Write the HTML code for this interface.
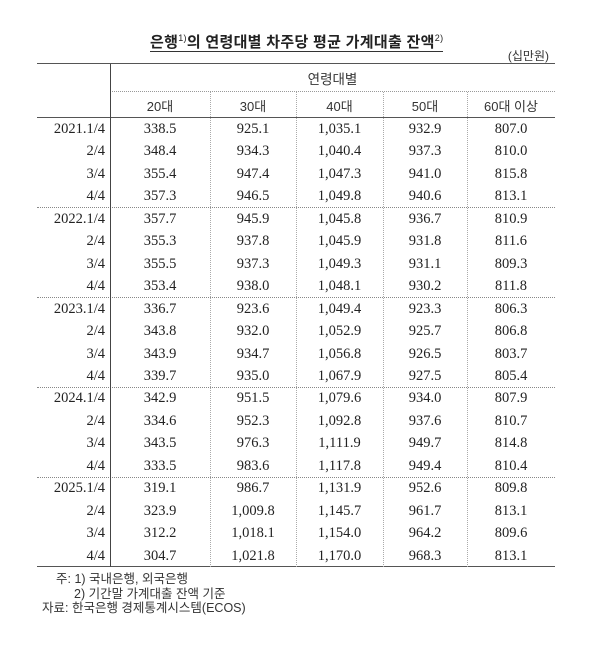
<!DOCTYPE html>
<html><head><meta charset="utf-8"><style>
body{margin:0;width:600px;height:646px;background:#fff;position:relative;overflow:hidden;font-family:"Liberation Serif","Noto Serif CJK KR",serif;color:#222}
.a{position:absolute;white-space:nowrap}
.t{font-family:"Liberation Sans","Noto Sans CJK KR",sans-serif;font-weight:bold;font-size:15px;left:150px;top:34px;border-bottom:1.5px solid #333;line-height:17px;letter-spacing:0.3px}
.t sup{font-size:9px;font-weight:normal;vertical-align:6px;line-height:0}
.k{font-family:"Liberation Sans","Noto Sans CJK KR",sans-serif;font-size:13px;color:#333}
.h{position:absolute;left:37px;width:518px}
.v{position:absolute;width:0}
.c{position:absolute;font-size:14.5px;text-align:center;line-height:22.5px}
</style></head><body>
<div class="a t">은행<sup>1)</sup>의 연령대별 차주당 평균 가계대출 잔액<sup>2)</sup></div>
<div class="a k" style="right:51px;top:47px;font-size:12px">(십만원)</div>
<div class="h" style="top:63px;border-top:1.5px solid #555"></div>
<div class="h" style="top:91px;left:110px;width:445px;border-top:1px dotted #999"></div>
<div class="h" style="top:117px;border-top:1.5px solid #555"></div>
<div class="h" style="top:207px;border-top:1px dotted #888"></div>
<div class="h" style="top:297px;border-top:1px dotted #888"></div>
<div class="h" style="top:387px;border-top:1px dotted #888"></div>
<div class="h" style="top:477px;border-top:1px dotted #888"></div>
<div class="h" style="top:566px;border-top:1.5px solid #555"></div>
<div class="v" style="left:110px;top:64px;height:503px;border-left:1.5px solid #444"></div>
<div class="v" style="left:210px;top:92px;height:475px;border-left:1px dotted #aaa"></div>
<div class="v" style="left:296px;top:92px;height:475px;border-left:1px dotted #aaa"></div>
<div class="v" style="left:383px;top:92px;height:475px;border-left:1px dotted #aaa"></div>
<div class="v" style="left:467px;top:92px;height:475px;border-left:1px dotted #aaa"></div>
<div class="a k" style="left:110px;width:445px;text-align:center;top:68px;font-size:13.5px">연령대별</div>
<div class="a k" style="left:110px;width:100px;text-align:center;top:96px">20대</div>
<div class="a k" style="left:210px;width:86px;text-align:center;top:96px">30대</div>
<div class="a k" style="left:296px;width:87px;text-align:center;top:96px">40대</div>
<div class="a k" style="left:383px;width:84px;text-align:center;top:96px">50대</div>
<div class="a k" style="left:467px;width:88px;text-align:center;top:96px">60대 이상</div>
<div id="rows"></div>
<div class="a k" style="left:56px;top:568px;font-size:12.5px">주: 1) 국내은행, 외국은행</div>
<div class="a k" style="left:74px;top:583px;font-size:12.5px">2) 기간말 가계대출 잔액 기준</div>
<div class="a k" style="left:42px;top:597px;font-size:12.5px">자료: 한국은행 경제통계시스템(ECOS)</div>
<script>
var d=[["2021.1/4","338.5","925.1","1,035.1","932.9","807.0"],["2/4","348.4","934.3","1,040.4","937.3","810.0"],["3/4","355.4","947.4","1,047.3","941.0","815.8"],["4/4","357.3","946.5","1,049.8","940.6","813.1"],
["2022.1/4","357.7","945.9","1,045.8","936.7","810.9"],["2/4","355.3","937.8","1,045.9","931.8","811.6"],["3/4","355.5","937.3","1,049.3","931.1","809.3"],["4/4","353.4","938.0","1,048.1","930.2","811.8"],
["2023.1/4","336.7","923.6","1,049.4","923.3","806.3"],["2/4","343.8","932.0","1,052.9","925.7","806.8"],["3/4","343.9","934.7","1,056.8","926.5","803.7"],["4/4","339.7","935.0","1,067.9","927.5","805.4"],
["2024.1/4","342.9","951.5","1,079.6","934.0","807.9"],["2/4","334.6","952.3","1,092.8","937.6","810.7"],["3/4","343.5","976.3","1,111.9","949.7","814.8"],["4/4","333.5","983.6","1,117.8","949.4","810.4"],
["2025.1/4","319.1","986.7","1,131.9","952.6","809.8"],["2/4","323.9","1,009.8","1,145.7","961.7","813.1"],["3/4","312.2","1,018.1","1,154.0","964.2","809.6"],["4/4","304.7","1,021.8","1,170.0","968.3","813.1"]];
var L=[[110,100],[210,86],[296,87],[383,84],[467,88]],h="";
d.forEach(function(r,i){var y=118+i*22.45;
h+='<div class="c" style="left:37px;width:68px;text-align:right;top:'+y+'px">'+r[0]+'</div>';
for(var j=0;j<5;j++)h+='<div class="c" style="left:'+L[j][0]+'px;width:'+L[j][1]+'px;top:'+y+'px">'+r[j+1]+'</div>';});
document.getElementById("rows").innerHTML=h;
</script>
</body></html>
